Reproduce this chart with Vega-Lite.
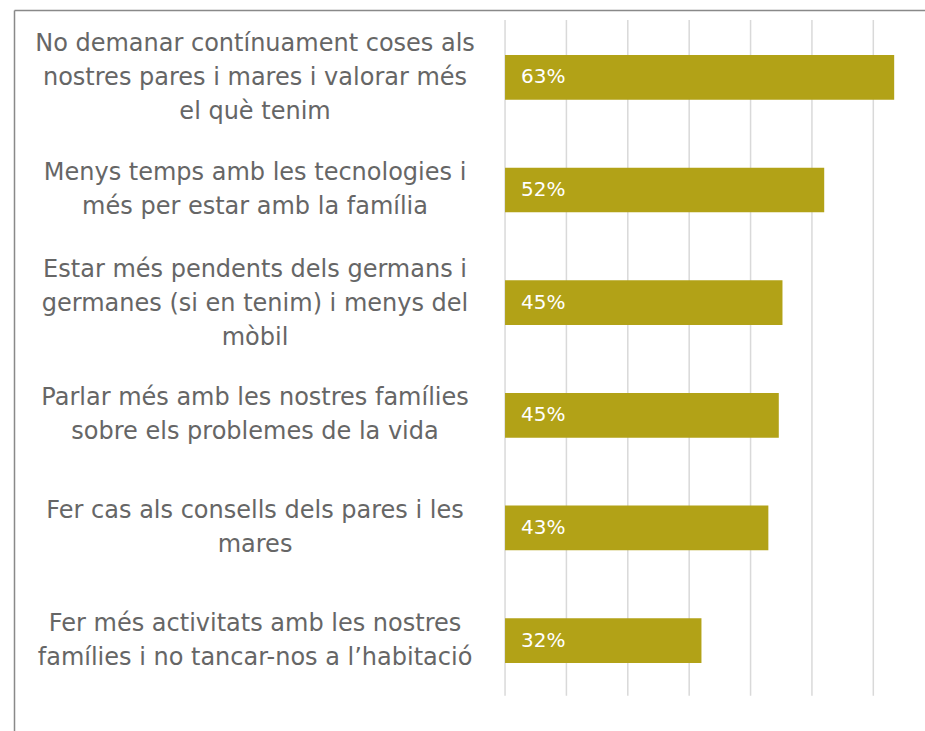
{
  "$schema": "https://vega.github.io/schema/vega-lite/v6.json",
  "width": 911,
  "height": 721,
  "autosize": {"type": "none"},
  "padding": {"left": 14, "top": 10, "right": 0, "bottom": 0},
  "background": "white",
  "config": {
    "view": {"stroke": null},
    "font": "DejaVu Sans"
  },
  "datasets": {
    "items": [
      {"item": "No demanar contínuament coses als\nnostres pares i mares i valorar més\nel què tenim", "value": 0.634},
      {"item": "Menys temps amb les tecnologies i\nmés per estar amb la família", "value": 0.520},
      {"item": "Estar més pendents dels germans i\ngermanes (si en tenim) i menys del\nmòbil", "value": 0.452},
      {"item": "Parlar més amb les nostres famílies\nsobre els problemes de la vida", "value": 0.446},
      {"item": "Fer cas als consells dels pares i les\nmares", "value": 0.429},
      {"item": "Fer més activitats amb les nostres\nfamílies i no tancar-nos a l’habitació", "value": 0.320}
    ],
    "grid": [
      {"g": 0}, {"g": 0.1}, {"g": 0.2}, {"g": 0.3}, {"g": 0.4}, {"g": 0.5}, {"g": 0.6}
    ]
  },
  "encoding": {
    "x": {
      "type": "quantitative",
      "scale": {"domain": [-0.8, 0.6842], "nice": false, "zero": false},
      "axis": {"orient": "top", "labels": false, "ticks": false, "grid": false, "domain": true, "domainColor": "#898989", "domainWidth": 1.5, "title": null}
    },
    "y": {
      "type": "nominal",
      "sort": null,
      "scale": {"paddingInner": 0.603, "paddingOuter": 0.5015, "align": 0.398},
      "axis": {"labels": false, "ticks": false, "grid": false, "domain": true, "domainColor": "#898989", "domainWidth": 1.5, "title": null}
    }
  },
  "layer": [
    {
      "data": {"name": "grid"},
      "mark": {"type": "rule", "color": "#D9D9D9", "strokeWidth": 1.5},
      "encoding": {
        "x": {"field": "g", "type": "quantitative"},
        "y": {"datum": "No demanar contínuament coses als\nnostres pares i mares i valorar més\nel què tenim", "type": "nominal", "bandPosition": -0.782},
        "y2": {"datum": "No demanar contínuament coses als\nnostres pares i mares i valorar més\nel què tenim", "bandPosition": 14.33}
      }
    },
    {
      "data": {"name": "items"},
      "mark": {"type": "bar", "color": "#B2A217"},
      "encoding": {
        "x": {"field": "value", "type": "quantitative"},
        "y": {"field": "item", "type": "nominal", "sort": null}
      }
    },
    {
      "data": {"name": "items"},
      "transform": [{"filter": "length(split(datum.item, '\\n')) == 3"}],
      "mark": {"type": "text", "align": "center", "baseline": "middle", "lineBreak": "\n", "fontSize": 24, "lineHeight": 34, "dy": -33, "color": "#666666"},
      "encoding": {
        "x": {"datum": -0.4073, "type": "quantitative"},
        "y": {"field": "item", "type": "nominal", "sort": null},
        "text": {"field": "item", "type": "nominal"}
      }
    },
    {
      "data": {"name": "items"},
      "transform": [{"filter": "length(split(datum.item, '\\n')) == 2"}],
      "mark": {"type": "text", "align": "center", "baseline": "middle", "lineBreak": "\n", "fontSize": 24, "lineHeight": 34, "dy": -17, "color": "#666666"},
      "encoding": {
        "x": {"datum": -0.4073, "type": "quantitative"},
        "y": {"field": "item", "type": "nominal", "sort": null},
        "text": {"field": "item", "type": "nominal"}
      }
    },
    {
      "data": {"name": "items"},
      "mark": {"type": "text", "align": "left", "baseline": "middle", "dx": 16, "fontSize": 20, "color": "white"},
      "encoding": {
        "x": {"datum": 0, "type": "quantitative"},
        "y": {"field": "item", "type": "nominal", "sort": null},
        "text": {"field": "value", "type": "quantitative", "format": ".0%"}
      }
    }
  ]
}
